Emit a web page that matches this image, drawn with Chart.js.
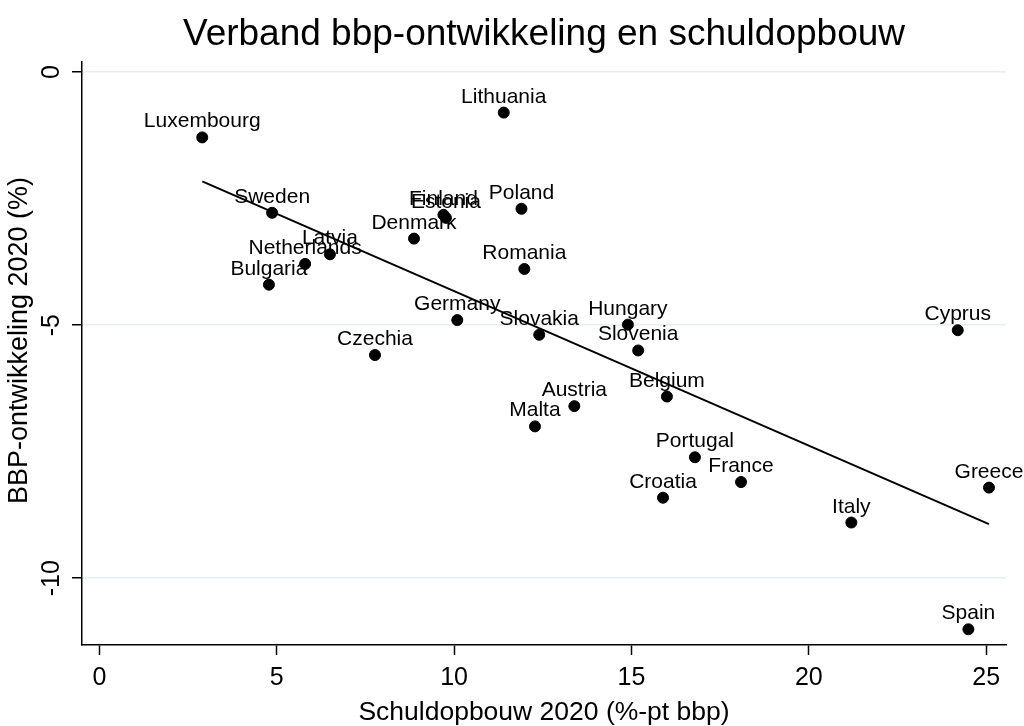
<!DOCTYPE html>
<html><head><meta charset="utf-8">
<script src="https://cdn.jsdelivr.net/npm/chart.js@4/dist/chart.umd.min.js"></script>
<style>html,body{margin:0;padding:0;background:#fff;overflow:hidden}</style>
</head><body>
<canvas id="c" width="1024" height="726" style="display:block;width:1024px;height:726px"></canvas>
<script>
// ---- data ----
const countries = ["Luxembourg","Lithuania","Sweden","Finland","Estonia","Poland","Denmark","Latvia","Netherlands","Bulgaria","Romania","Germany","Slovakia","Hungary","Slovenia","Belgium","Austria","Malta","Czechia","Portugal","France","Croatia","Italy","Cyprus","Greece","Spain"];
const debtBuildup = [2.9, 11.4, 4.87, 9.7, 9.77, 11.9, 8.87, 6.5, 5.8, 4.78, 11.98, 10.09, 12.4, 14.9, 15.19, 16.0, 13.39, 12.28, 7.77, 16.79, 18.09, 15.89, 21.2, 24.2, 25.08, 24.5];
const gdpGrowth = [-1.29, -0.8, -2.78, -2.82, -2.88, -2.7, -3.29, -3.6, -3.79, -4.2, -3.89, -4.9, -5.19, -4.99, -5.5, -6.41, -6.6, -7.0, -5.59, -7.61, -8.1, -8.41, -8.9, -5.1, -8.21, -11.01];
const fitX = [2.9, 25.08];
const fitY = [-2.16, -8.93];
const xTicks = [0, 5, 10, 15, 20, 25];
const yTicks = [0, -5, -10];
const chartTitle = 'Verband bbp-ontwikkeling en schuldopbouw';
const xTitle = 'Schuldopbouw 2020 (%-pt bbp)';
const yTitle = 'BBP-ontwikkeling 2020 (%)';

const FONT = "'Liberation Sans', Arial, Helvetica, sans-serif";

const labelPlugin = {
  id: 'pointLabels',
  afterDatasetsDraw(chart) {
    const ctx = chart.ctx;
    const meta = chart.getDatasetMeta(0);
    ctx.save();
    ctx.font = "21px " + FONT;
    ctx.fillStyle = "#000";
    ctx.textAlign = "center";
    ctx.textBaseline = "alphabetic";
    meta.data.forEach((pt, i) => {
      ctx.fillText(countries[i], pt.x, pt.y - 10);
    });
    ctx.restore();
  }
};

const yTitlePlugin = {
  id: 'yTitle',
  afterDraw(chart) {
    const ctx = chart.ctx;
    const ys = chart.scales.y;
    ctx.save();
    ctx.font = "27px " + FONT;
    ctx.fillStyle = "#000";
    ctx.textAlign = "center";
    ctx.textBaseline = "middle";
    ctx.translate(20, (ys.top + ys.bottom) / 2 - 13);
    ctx.rotate(-Math.PI / 2);
    ctx.fillText(yTitle, 0, 0);
    ctx.restore();
  }
};

new Chart(document.getElementById('c'), {
  type: 'scatter',
  data: {
    datasets: [
      {
        label: 'countries',
        data: debtBuildup.map((x, i) => ({x: x, y: gdpGrowth[i]})),
        backgroundColor: '#000',
        borderColor: '#000',
        pointRadius: 5.5,
        pointHoverRadius: 5.5,
        order: 1
      },
      {
        type: 'line',
        label: 'fit',
        data: fitX.map((x, i) => ({x: x, y: fitY[i]})),
        borderColor: '#000',
        borderWidth: 2,
        pointRadius: 0,
        fill: false,
        order: 2
      }
    ]
  },
  options: {
    responsive: false,
    animation: false,
    devicePixelRatio: 1,
    layout: {padding: {left: 0, right: 18, top: 0, bottom: 0}},
    plugins: {
      legend: {display: false},
      tooltip: {enabled: false},
      title: {
        display: true,
        text: chartTitle,
        fullSize: false,
        color: '#000',
        font: {family: FONT, size: 37, weight: 'normal', lineHeight: 1.2},
        padding: {top: 12.4, bottom: 5.2}
      }
    },
    scales: {
      x: {
        type: 'linear',
        min: -0.49, max: 25.56,
        afterBuildTicks: (s) => { s.ticks = xTicks.map(v => ({value: v})); },
        afterFit: (s) => { s.height = 81; },
        ticks: {includeBounds: false, color: '#000', font: {family: FONT, size: 25}, padding: 8, maxRotation: 0},
        grid: {drawOnChartArea: false, drawTicks: true, tickLength: 10, tickColor: '#000', tickWidth: 1.5},
        border: {display: true, color: '#000', width: 1.5},
        title: {display: true, text: xTitle, color: '#000', font: {family: FONT, size: 26.5, lineHeight: 1}, padding: {top: 0, bottom: 0}}
      },
      y: {
        type: 'linear',
        min: -11.32, max: 0.2,
        afterBuildTicks: (s) => { s.ticks = yTicks.map(v => ({value: v})); },
        afterFit: (s) => { s.width = 82; },
        ticks: {includeBounds: false, color: '#000', font: {family: FONT, size: 25}, minRotation: 90, maxRotation: 90, crossAlign: 'center', padding: 2},
        grid: {drawOnChartArea: true, color: '#e6eef0', lineWidth: 1.5, drawTicks: true, tickLength: 10, tickColor: '#000', tickWidth: 1.5},
        border: {display: true, color: '#000', width: 1.5},
        title: {display: false}
      }
    }
  },
  plugins: [labelPlugin, yTitlePlugin]
});
</script>
</body></html>
